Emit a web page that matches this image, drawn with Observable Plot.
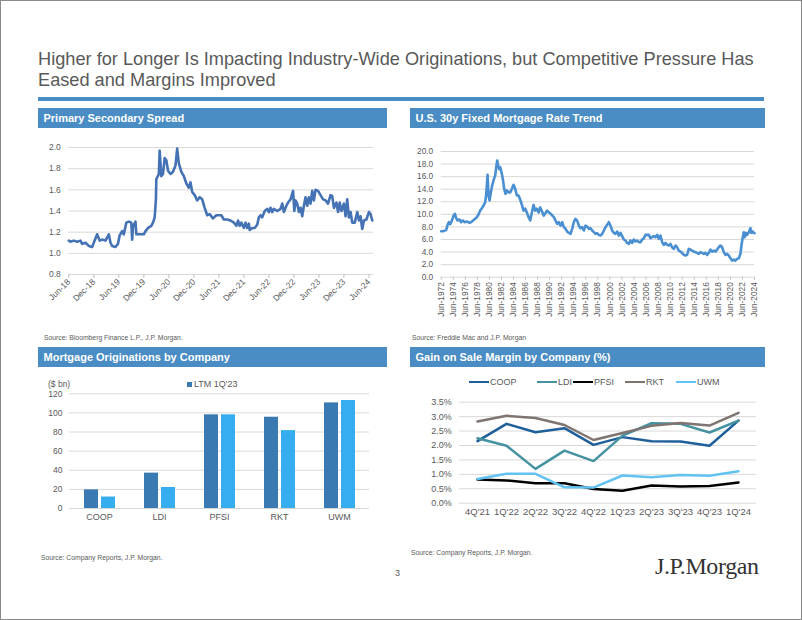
<!DOCTYPE html>
<html><head><meta charset="utf-8">
<script src="https://cdn.jsdelivr.net/npm/d3@7"></script>
<script src="https://cdn.jsdelivr.net/npm/@observablehq/plot@0.6"></script>
<style>
html,body{margin:0;padding:0;background:#fff;}
#page{position:relative;width:802px;height:620px;overflow:hidden;background:#fff;font-family:"Liberation Sans",Arial,sans-serif;color:#595959;}
.abs{position:absolute;white-space:nowrap;}
.title{left:38px;top:48.5px;font-size:18.2px;line-height:21.5px;color:#595959;}
.rule{left:38px;top:97px;width:726px;height:4px;background:#4a8cc4;}
.hdr{height:20px;background:#4a8cc4;color:#fff;font-weight:bold;font-size:11px;line-height:20px;padding-left:5.5px;box-sizing:border-box;}
.src{font-size:6.8px;color:#595959;}
.leg{font-size:9px;color:#595959;line-height:10px;}
.legline{position:absolute;width:20px;height:2.5px;}
#border{position:absolute;left:0;top:0;width:802px;height:620px;box-sizing:border-box;border:1px solid #8a8a8a;pointer-events:none;}
</style></head>
<body>
<div id="page">
  <div class="abs title">Higher for Longer Is Impacting Industry-Wide Originations, but Competitive Pressure Has<br>Eased and Margins Improved</div>
  <div class="abs rule"></div>
  <div class="abs hdr" style="left:38px;top:108px;width:349px;">Primary Secondary Spread</div>
  <div class="abs hdr" style="left:410px;top:108px;width:355px;">U.S. 30y Fixed Mortgage Rate Trend</div>
  <div class="abs hdr" style="left:38px;top:347px;width:349px;">Mortgage Originations by Company</div>
  <div class="abs hdr" style="left:410px;top:347px;width:355px;">Gain on Sale Margin by Company (%)</div>
  <div class="abs src" style="left:44px;top:334px;">Source: Bloomberg Finance L.P., J.P. Morgan.</div>
  <div class="abs src" style="left:412px;top:334px;">Source: Freddie Mac and J.P. Morgan</div>
  <div class="abs src" style="left:41px;top:554px;">Source: Company Reports, J.P. Morgan.</div>
  <div class="abs src" style="left:411px;top:549px;">Source: Company Reports, J.P. Morgan.</div>
  <div class="abs" style="left:395px;top:568px;font-size:9px;">3</div>
  <div class="abs" style="left:655px;top:553px;font-family:'Liberation Serif','DejaVu Serif',serif;font-size:24px;color:#333;letter-spacing:-0.4px;">J.P.Morgan</div>
  <div class="abs leg" style="left:48px;top:379px;font-size:8.5px;">($ bn)</div>
  <div class="abs" style="left:187px;top:381.5px;width:5px;height:5px;background:#3a7ab3;"></div>
  <div class="abs leg" style="left:194px;top:379px;">LTM 1Q'23</div>
  <div id="legend4"></div>
  <div id="border"></div>
</div>
<script>
// ---------- Data ----------
// Primary Secondary Spread: months after Jun-2018, spread values
const spreadMonths = [0,0.4,1.2,2,2.8,3.2,4,4.8,5.6,6,6.8,7.4,8,8.8,9.6,10,10.4,11.2,11.8,12.2,12.8,13.2,13.8,14.4,15,15.2,15.4,16,16.2,18,18.4,19,19.8,20.2,20.6,20.9,21,21.6,21.8,22.2,22.6,23,23.4,23.8,24.4,25,25.6,26,26.4,27,27.6,28.2,28.8,29.2,29.6,30.2,30.8,31.4,32,32.6,33.2,33.8,34.6,35.4,36.0,36.6,37.2,38.0,38.8,39.6,40.2,40.6,41.0,41.4,42.0,42.4,42.8,43.2,43.4,44.0,44.6,45.2,45.6,46.0,46.4,47.0,47.6,48.0,48.4,48.8,49.2,50.0,50.8,51.2,51.6,52.2,52.6,53.2,53.8,54.1,54.4,54.8,55.2,55.6,56.0,56.4,56.8,57.2,57.6,58.0,58.4,58.8,59.2,59.8,60.4,61.0,61.6,62.2,62.8,63.2,63.6,64.2,64.6,65.0,65.4,66.0,66.4,66.8,67.2,67.6,68.0,68.6,69.2,69.6,70.0,70.4,70.8,71.4,72.0,72.4,72.8];
const spreadValues = [1.12,1.11,1.12,1.11,1.12,1.09,1.10,1.07,1.06,1.10,1.18,1.12,1.13,1.12,1.18,1.10,1.07,1.06,1.09,1.17,1.21,1.18,1.29,1.30,1.29,1.13,1.25,1.30,1.18,1.18,1.21,1.24,1.26,1.29,1.34,1.51,1.70,1.75,1.97,1.73,1.75,1.90,1.88,1.78,1.75,1.77,1.83,1.99,1.85,1.77,1.73,1.66,1.62,1.67,1.58,1.55,1.50,1.53,1.51,1.43,1.36,1.37,1.33,1.36,1.36,1.36,1.32,1.32,1.31,1.29,1.26,1.31,1.26,1.29,1.24,1.29,1.24,1.28,1.22,1.24,1.24,1.27,1.34,1.36,1.34,1.40,1.42,1.39,1.43,1.39,1.42,1.40,1.42,1.47,1.39,1.45,1.48,1.51,1.59,1.40,1.50,1.47,1.39,1.43,1.35,1.45,1.53,1.45,1.53,1.47,1.59,1.50,1.60,1.59,1.55,1.51,1.50,1.47,1.55,1.54,1.43,1.48,1.39,1.48,1.40,1.47,1.35,1.51,1.34,1.39,1.29,1.29,1.39,1.31,1.35,1.23,1.31,1.32,1.39,1.37,1.31];
const spreadYTicks = [0.8,1.0,1.2,1.4,1.6,1.8,2.0];
const spreadTickLabels = ["Jun-18","Dec-18","Jun-19","Dec-19","Jun-20","Dec-20","Jun-21","Dec-21","Jun-22","Dec-22","Jun-23","Dec-23","Jun-24"];

// U.S. 30y fixed mortgage rate: decimal years and rate (%)
const rateYears = [1972.42,1972.81,1973.25,1973.47,1973.69,1973.91,1974.19,1974.47,1974.69,1974.91,1975.13,1975.46,1975.74,1976.02,1976.29,1976.68,1977.12,1977.51,1977.9,1978.34,1978.61,1978.89,1979.17,1979.44,1979.72,1979.89,1980.11,1980.27,1980.44,1980.66,1980.88,1981.1,1981.38,1981.55,1981.71,1981.88,1982.04,1982.21,1982.49,1982.65,1982.87,1983.09,1983.32,1983.59,1983.87,1984.15,1984.42,1984.7,1984.98,1985.25,1985.53,1985.81,1986.08,1986.36,1986.64,1986.91,1987.19,1987.46,1987.74,1988.02,1988.29,1988.57,1988.85,1989.45,1990.0,1990.56,1991.11,1991.39,1991.67,1991.94,1992.22,1992.5,1992.77,1993.05,1993.32,1993.6,1993.88,1994.15,1994.43,1994.71,1994.98,1995.26,1995.54,1995.81,1996.09,1996.37,1996.64,1996.92,1997.2,1997.47,1997.75,1998.03,1998.3,1998.58,1998.86,1999.13,1999.41,1999.69,1999.96,2000.24,2000.51,2000.79,2001.07,2001.34,2001.62,2001.9,2002.17,2002.45,2002.73,2003.0,2003.28,2003.56,2003.83,2004.11,2004.39,2004.66,2004.94,2005.22,2005.49,2005.77,2006.05,2006.32,2006.87,2007.15,2007.43,2007.7,2007.98,2008.26,2008.53,2008.81,2009.09,2009.36,2009.64,2009.92,2010.19,2010.47,2010.74,2011.02,2011.3,2011.57,2011.85,2012.13,2012.4,2012.68,2012.96,2013.23,2013.51,2013.79,2014.06,2014.34,2014.62,2014.89,2015.17,2015.45,2015.72,2016.0,2016.28,2016.55,2016.83,2017.11,2017.38,2017.66,2017.93,2018.21,2018.49,2018.76,2019.04,2019.32,2019.59,2019.87,2020.15,2020.42,2020.7,2020.98,2021.25,2021.53,2021.81,2022.08,2022.25,2022.47,2022.64,2022.8,2023.02,2023.19,2023.47,2023.74,2023.91,2024.13,2024.3,2024.42];
const rateValues = [7.32,7.32,7.53,8.33,8.75,8.43,9.0,9.8,10.08,9.39,9.02,9.18,8.75,9.02,8.75,8.86,8.65,8.86,9.18,9.55,9.97,10.6,10.98,11.4,11.94,13.26,16.29,13.0,12.2,13.5,14.6,15.4,16.2,17.5,18.57,17.8,17.2,17.5,16.4,15.6,14.06,13.26,13.8,13.5,13.5,14.06,14.7,14.06,13.0,13.0,12.36,11.5,10.6,10.9,10.3,9.55,9.02,10.3,11.5,10.6,10.9,10.3,11.1,9.8,10.6,10.1,9.55,9.0,8.5,8.75,8.2,8.75,7.96,7.7,7.27,7.05,6.9,7.7,8.75,9.28,9.0,8.2,7.8,7.96,7.43,8.2,8.06,7.7,7.8,7.43,7.16,6.9,7.0,6.74,6.63,6.9,7.43,7.96,8.33,8.75,8.2,7.43,7.05,6.9,7.27,6.63,7.05,6.53,6.0,5.84,5.46,5.3,5.84,5.46,6.0,5.68,5.84,5.57,5.57,6.0,6.2,6.74,6.74,6.2,6.37,6.53,6.37,6.74,6.1,6.63,5.57,5.15,5.46,5.15,5.04,5.3,4.77,4.5,5.04,4.77,4.24,4.08,3.87,3.55,3.45,3.55,4.5,4.4,4.24,4.08,3.98,3.87,3.71,3.98,3.87,3.71,3.87,3.55,3.87,4.4,4.08,4.24,4.08,4.4,4.77,5.04,4.77,3.98,3.55,3.71,3.45,3.02,2.65,2.81,2.65,2.92,3.02,3.71,5.04,6.37,7.16,6.37,7.05,6.74,7.16,7.8,7.05,7.27,7.05,7.0];
const rateYTicks = [0,2,4,6,8,10,12,14,16,18,20];
const rateTickLabels = ["Jun-1972","Jun-1974","Jun-1976","Jun-1978","Jun-1980","Jun-1982","Jun-1984","Jun-1986","Jun-1988","Jun-1990","Jun-1992","Jun-1994","Jun-1996","Jun-1998","Jun-2000","Jun-2002","Jun-2004","Jun-2006","Jun-2008","Jun-2010","Jun-2012","Jun-2014","Jun-2016","Jun-2018","Jun-2020","Jun-2022","Jun-2024"];

// Mortgage originations by company ($ bn)
const companies = ["COOP","LDI","PFSI","RKT","UWM"];
const seriesNames = ["LTM 1Q'23","LTM 1Q'24"];
const originationsA = [19.5,37,98,95.5,110.5];
const originationsB = [12,22,98,81.5,113];
const origYTicks = [0,20,40,60,80,100,120];

// Gain on sale margin by company (%)
const quarters = ["4Q'21","1Q'22","2Q'22","3Q'22","4Q'22","1Q'23","2Q'23","3Q'23","4Q'23","1Q'24"];
const marginCompanies = ["COOP","LDI","PFSI","RKT","UWM"];
const coopMargin = [2.15,2.75,2.46,2.60,2.02,2.29,2.15,2.14,1.99,2.86];
const ldiMargin  = [2.25,1.99,1.19,1.82,1.46,2.34,2.77,2.75,2.45,2.86];
const pfsiMargin = [0.82,0.79,0.69,0.69,0.49,0.43,0.61,0.58,0.60,0.72];
const rktMargin  = [2.83,3.03,2.95,2.71,2.19,2.43,2.68,2.78,2.69,3.13];
const uwmMargin  = [0.84,1.02,1.02,0.55,0.54,0.96,0.90,0.98,0.95,1.11];
const marginYTicks = [0,0.5,1.0,1.5,2.0,2.5,3.0,3.5];

// ---------- Build ----------
const page = document.getElementById("page");
const border = document.getElementById("border");
const FONT = "'Liberation Sans', Arial, sans-serif";
function place(svg, left, top) {
  svg.style.position = "absolute";
  svg.style.left = left + "px";
  svg.style.top = top + "px";
  page.insertBefore(svg, border);
}
const GRID = "#d9d9d9";

// Chart 1
const spreadStart = new Date(Date.UTC(2018, 5, 1));
const spreadData = spreadMonths.map((m, i) => ({date: new Date(+spreadStart + m * 30.4375 * 864e5), value: spreadValues[i]}));
const parseShort = d3.utcParse("%b-%y");
const spreadTickDates = spreadTickLabels.map(s => parseShort(s));
const c1 = Plot.plot({
  width: 350, height: 179, marginLeft: 38.3, marginRight: 7, marginTop: 12, marginBottom: 40,
  style: {fontFamily: FONT, fontSize: "8.5px", color: "#595959", background: "transparent", overflow: "visible"},
  x: {type: "utc", domain: [spreadStart, new Date(Date.UTC(2024, 6, 4))]},
  y: {domain: [0.8, 2.0]},
  marks: [
    Plot.gridY(spreadYTicks, {stroke: GRID, strokeOpacity: 1}),
    Plot.axisY(spreadYTicks, {tickSize: 0, tickPadding: 8, tickFormat: d => d.toFixed(1), label: null}),
    Plot.axisX(spreadTickDates, {tickRotate: -45, tickSize: 4, tickPadding: 2, stroke: "#bfbfbf", tickFormat: d3.utcFormat("%b-%y"), label: null}),
    Plot.lineY(spreadData, {x: "date", y: "value", stroke: "#4472b4", strokeWidth: 2.6, strokeLinejoin: "round"})
  ]
});
place(c1, 30, 135);

// Chart 2
const toDate = t => new Date(Date.UTC(1970, 0, 1) + (t - 1970) * 365.2425 * 864e5);
const rateData = rateYears.map((t, i) => ({date: toDate(t), value: rateValues[i]}));
const parseLong = d3.utcParse("%b-%Y");
const rateTickDates = rateTickLabels.map(s => parseLong(s));
const c2 = Plot.plot({
  width: 365, height: 179, marginLeft: 40.7, marginRight: 11, marginTop: 11, marginBottom: 42.3,
  style: {fontFamily: FONT, fontSize: "8.3px", color: "#595959", background: "transparent", overflow: "visible"},
  x: {type: "utc", domain: [rateTickDates[0], rateTickDates[rateTickDates.length - 1]]},
  y: {domain: [0, 20]},
  marks: [
    Plot.gridY(rateYTicks, {stroke: GRID, strokeOpacity: 1}),
    Plot.axisY(rateYTicks, {tickSize: 0, tickPadding: 8, tickFormat: d => d.toFixed(1), label: null}),
    Plot.axisX(rateTickDates, {tickRotate: -90, tickSize: 3, tickPadding: 2, stroke: "#bfbfbf", tickFormat: d3.utcFormat("%b-%Y"), label: null}),
    Plot.lineY(rateData, {x: "date", y: "value", stroke: "#4a8fd2", strokeWidth: 2.6, strokeLinejoin: "round"})
  ]
});
place(c2, 400, 140);

// Chart 3
const barData = companies.flatMap((c, i) => [
  {company: c, series: seriesNames[0], value: originationsA[i]},
  {company: c, series: seriesNames[1], value: originationsB[i]}
]);
const c3 = Plot.plot({
  width: 350, height: 148, marginLeft: 39, marginRight: 11, marginTop: 13.3, marginBottom: 20,
  style: {fontFamily: FONT, fontSize: "8.5px", color: "#595959", background: "transparent", overflow: "visible"},
  fx: {domain: companies, padding: 0, label: null},
  x: {domain: seriesNames, paddingInner: 0.18, paddingOuter: 0.85, axis: null},
  y: {domain: [0, 120]},
  color: {domain: seriesNames, range: ["#3a7ab3", "#35adef"]},
  marks: [
    Plot.gridY(origYTicks, {stroke: GRID, strokeOpacity: 1}),
    Plot.axisY(origYTicks, {tickSize: 0, tickPadding: 7, label: null}),
    Plot.axisFx({anchor: "bottom", tickSize: 0, tickPadding: 5, fontSize: 9, label: null}),
    Plot.barY(barData, {fx: "company", x: "series", y: "value", fill: "series"})
  ]
});
place(c3, 30, 380);

// Chart 4
const marginSeries = [coopMargin, ldiMargin, pfsiMargin, rktMargin, uwmMargin];
const marginColors = ["#1f5f9c", "#4592a0", "#000000", "#7f7470", "#62c3f3"];
const marginData = marginCompanies.flatMap((c, k) => quarters.map((q, i) => ({company: c, quarter: q, value: marginSeries[k][i]})));
const c4 = Plot.plot({
  width: 365, height: 133, marginLeft: 59.2, marginRight: 8.8, marginTop: 11.7, marginBottom: 20.3,
  style: {fontFamily: FONT, fontSize: "9px", color: "#595959", background: "transparent", overflow: "visible"},
  x: {type: "point", domain: quarters, padding: 0.5},
  y: {domain: [0, 3.5]},
  color: {domain: marginCompanies, range: marginColors},
  marks: [
    Plot.gridY(marginYTicks, {stroke: GRID, strokeOpacity: 1}),
    Plot.axisY(marginYTicks, {tickSize: 0, tickPadding: 8, tickFormat: d => d.toFixed(1) + "%", label: null}),
    Plot.axisX({tickSize: 0, tickPadding: 5, fontSize: 9.5, label: null}),
    Plot.lineY(marginData, {x: "quarter", y: "value", z: "company", stroke: "company", strokeWidth: 2.5, strokeLinejoin: "round"})
  ]
});
place(c4, 400, 390);

// Legend for chart 4
const legendX = [469, 537, 573, 625, 676];
const leg = document.getElementById("legend4");
marginCompanies.forEach((c, k) => {
  const line = document.createElement("div");
  line.className = "legline";
  line.style.left = legendX[k] + "px";
  line.style.top = "380.8px";
  line.style.background = marginColors[k];
  leg.appendChild(line);
  const t = document.createElement("div");
  t.className = "abs leg";
  t.style.left = (legendX[k] + 21) + "px";
  t.style.top = "377px";
  t.textContent = c;
  leg.appendChild(t);
});
</script>
</body></html>
